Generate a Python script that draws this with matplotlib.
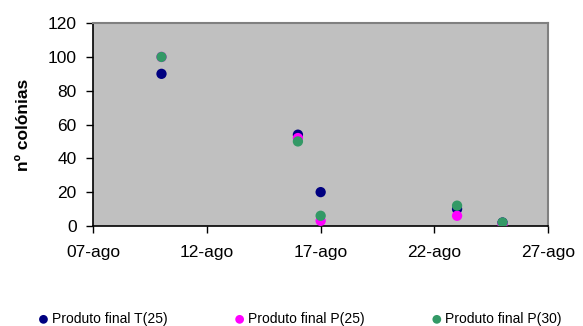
import matplotlib
matplotlib.use("Agg")
import matplotlib.pyplot as plt
import datetime as dt

plt.rcParams['font.family'] = ['Liberation Sans', 'DejaVu Sans']

dates = ["2005-08-10", "2005-08-16", "2005-08-17", "2005-08-23", "2005-08-25"]
series_names = ["Produto final T(25)", "Produto final P(25)", "Produto final P(30)"]
t25 = [90, 54, 20, 10, 2]
p25 = [100, 52, 3, 6, 1]
p30 = [100, 50, 6, 12, 2]
colors = ["#000080", "#FF00FF", "#339966"]
xtick_dates = ["2005-08-07", "2005-08-12", "2005-08-17", "2005-08-22", "2005-08-27"]
xtick_labels = ["07-ago", "12-ago", "17-ago", "22-ago", "27-ago"]
yticks = [0, 20, 40, 60, 80, 100, 120]

x = [dt.datetime.strptime(d, "%Y-%m-%d") for d in dates]
xt = [dt.datetime.strptime(d, "%Y-%m-%d") for d in xtick_dates]

fig = plt.figure(figsize=(5.83, 3.26), dpi=100)
ax = fig.add_axes([0.16, 0.307, 0.78, 0.622])
ax.set_facecolor("#C0C0C0")

for vals, name, c in zip([t25, p25, p30], series_names, colors):
    ax.scatter(x, vals, s=55, color=c, label=name, zorder=3, edgecolors='none')

ax.set_xlim(xt[0], xt[-1])
ax.set_ylim(0, 120)
ax.set_xticks(xt)
ax.set_xticklabels(xtick_labels, fontsize=12.5)
ax.set_yticks(yticks)
ax.set_yticklabels([str(v) for v in yticks], fontsize=12.5)
ax.set_ylabel("nº colónias", fontsize=12.5, fontweight='bold')
ax.yaxis.set_label_coords(-0.138, 0.5)

for s in ['top', 'right']:
    ax.spines[s].set_color("#808080")
    ax.spines[s].set_linewidth(1.5)
for s in ['left', 'bottom']:
    ax.spines[s].set_color("black")
    ax.spines[s].set_linewidth(1.2)
ax.tick_params(direction='out', length=5, width=1, colors='black')
ax.tick_params(axis='x', pad=9)
ax.tick_params(axis='y', pad=7)

leg = fig.legend(loc='center', bbox_to_anchor=(0.513, 0.0215), ncol=3, frameon=False,
                 fontsize=10, handletextpad=0.1, columnspacing=4.7, markerscale=0.85,
                 handlelength=1.0, borderpad=0, borderaxespad=0)

fig.savefig("out.png", dpi=100)
